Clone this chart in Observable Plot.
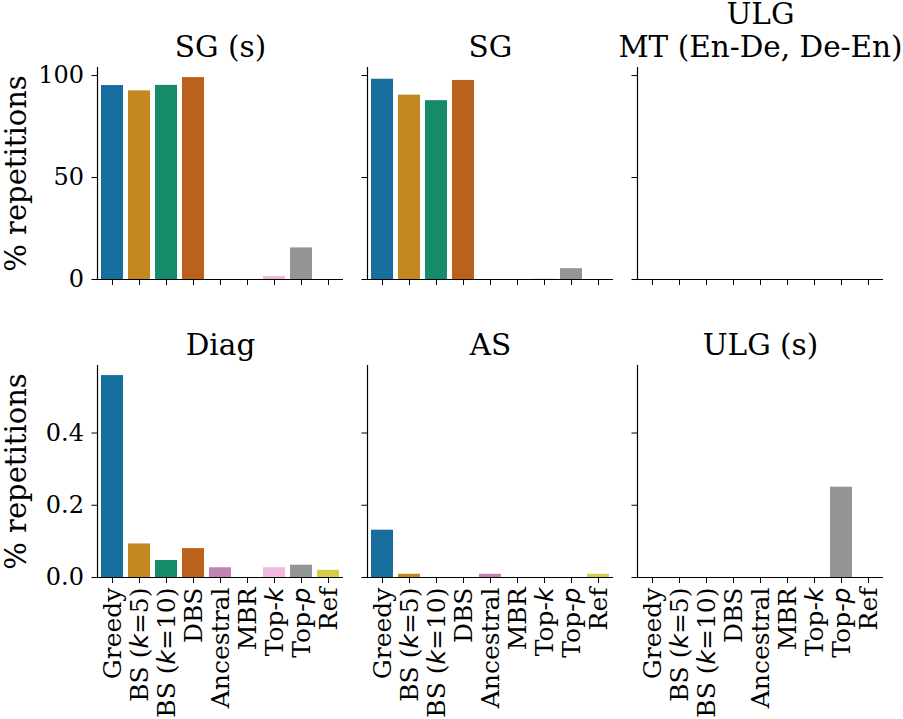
<!DOCTYPE html>
<html><head><meta charset="utf-8">
<script src="https://cdn.jsdelivr.net/npm/d3@7"></script>
<script src="https://cdn.jsdelivr.net/npm/@observablehq/plot@0.6"></script>
<style>
body{margin:0;background:#fff;}
#chart{position:relative;width:903px;height:719px;overflow:hidden;background:#fff;}
#chart svg{position:absolute;overflow:visible;}
#chart svg g[aria-label="x-axis tick label"], #chart svg g[aria-label="x-axis tick label"] text{font-size:25px !important;font-family:"DejaVu Serif" !important;}
#chart svg g[aria-label="y-axis tick label"], #chart svg g[aria-label="y-axis tick label"] text{font-size:24px !important;font-family:"DejaVu Serif" !important;}
</style></head><body><div id="chart"></div>
<script>
// ---- data ----
const methods = ["Greedy","BS (k=5)","BS (k=10)","DBS","Ancestral","MBR","Top-k","Top-p","Ref"];
const panelTitles = ["SG (s)","SG","ULG\nMT (En-De, De-En)","Diag","AS","ULG (s)"];
const sgS   = [95.1, 92.5, 95.2, 99.0, 0, 0, 1.5, 15.5, 0];
const sg    = [98.2, 90.4, 87.7, 97.6, 0, 0, 0.2, 5.3, 0];
const ulgMt = [0, 0, 0, 0, 0, 0, 0, 0, 0];
const diag  = [0.559, 0.093, 0.047, 0.080, 0.027, 0, 0.027, 0.034, 0.020];
const asV   = [0.131, 0.009, 0, 0, 0.009, 0, 0, 0, 0.009];
const ulgS  = [0, 0, 0, 0, 0, 0, 0, 0.25, 0];
const topTicks = [0, 50, 100];
const bottomTicks = [0, 0.2, 0.4];
const yLabel = "% repetitions";
const palette = ["#176d9c","#c38820","#158b6a","#ba611b","#c183b6","#bd926e","#f1b8e0","#949494","#d5cd4a"];

// ---- layout ----
const panels = [sgS, sg, ulgMt, diag, asV, ulgS];
const colLeft = [97, 367, 637];
const rowTop = [67, 365];
const plotW = 246, plotH = 212;
const rowMax = [d3.max([...sgS, ...sg, ...ulgMt]) * 1.05, d3.max([...diag, ...asV, ...ulgS]) * 1.05];
const chart = document.getElementById("chart");

panels.forEach((vals, i) => {
  const row = Math.floor(i / 3), col = i % 3;
  const mL = col === 0 ? 97 : 30, mR = 22;
  const mT = row === 0 ? 67 : 75, mB = row === 0 ? 20 : 140;
  const data = methods.map((m, j) => ({method: m, value: vals[j]}));
  const ticks = row === 0 ? topTicks : bottomTicks;
  const fmt = row === 0 ? (d => String(d)) : d3.format(".1f");
  const svg = Plot.plot({
    width: mL + plotW + mR,
    height: mT + plotH + mB,
    marginLeft: mL, marginRight: mR, marginTop: mT, marginBottom: mB,
    style: {fontFamily: "DejaVu Serif", fontSize: "24px", color: "#000", background: "transparent", overflow: "visible"},
    x: {type: "band", domain: methods, paddingInner: 0.2, paddingOuter: 0.1, axis: null},
    y: {domain: [0, rowMax[row]], axis: null},
    color: {domain: methods, range: palette},
    marks: [
      Plot.barY(data, {x: "method", y: "value", fill: "method"}),
      Plot.axisX({tickSize: 6, tickPadding: 4, tickRotate: -90, label: null, fontSize: 25,
                  tickFormat: row === 1 ? (d => d) : (() => "")}),
      Plot.axisY({ticks, tickSize: 5.5, tickPadding: 8, label: null, fontSize: 24,
                  tickFormat: col === 0 ? fmt : (() => "")}),
      Plot.ruleY([0], {stroke: "#000", strokeWidth: 1.2}),
      Plot.frame({anchor: "left", stroke: "#000", strokeWidth: 1.2}),
      Plot.text([panelTitles[i]], {frameAnchor: "top", dy: -11, lineAnchor: "bottom",
                                   fontSize: 29.5, lineHeight: 1.1, fill: "#000"}),
      col === 0 ? Plot.text([yLabel], {frameAnchor: "left", textAnchor: "middle", rotate: -90, dx: -81, fontSize: 29, fill: "#000"}) : null
    ]
  });
  svg.style.left = (colLeft[col] - mL) + "px";
  svg.style.top = (rowTop[row] - mT) + "px";
  // italic k / p in tick labels
  svg.querySelectorAll('g[aria-label="x-axis tick label"] text').forEach(t => {
    const m = t.textContent.match(/^(.*[(-])([kp])(.*)$/);
    if (!m) return;
    t.textContent = "";
    const ns = "http://www.w3.org/2000/svg";
    [[m[1], false], [m[2], true], [m[3], false]].forEach(([s, it]) => {
      if (!s) return;
      const ts = document.createElementNS(ns, "tspan");
      ts.textContent = s;
      if (it) { ts.setAttribute("font-style", "italic"); ts.setAttribute("font-family", "DejaVu Sans"); }
      t.appendChild(ts);
    });
  });
  chart.appendChild(svg);
});
</script>
</body></html>
